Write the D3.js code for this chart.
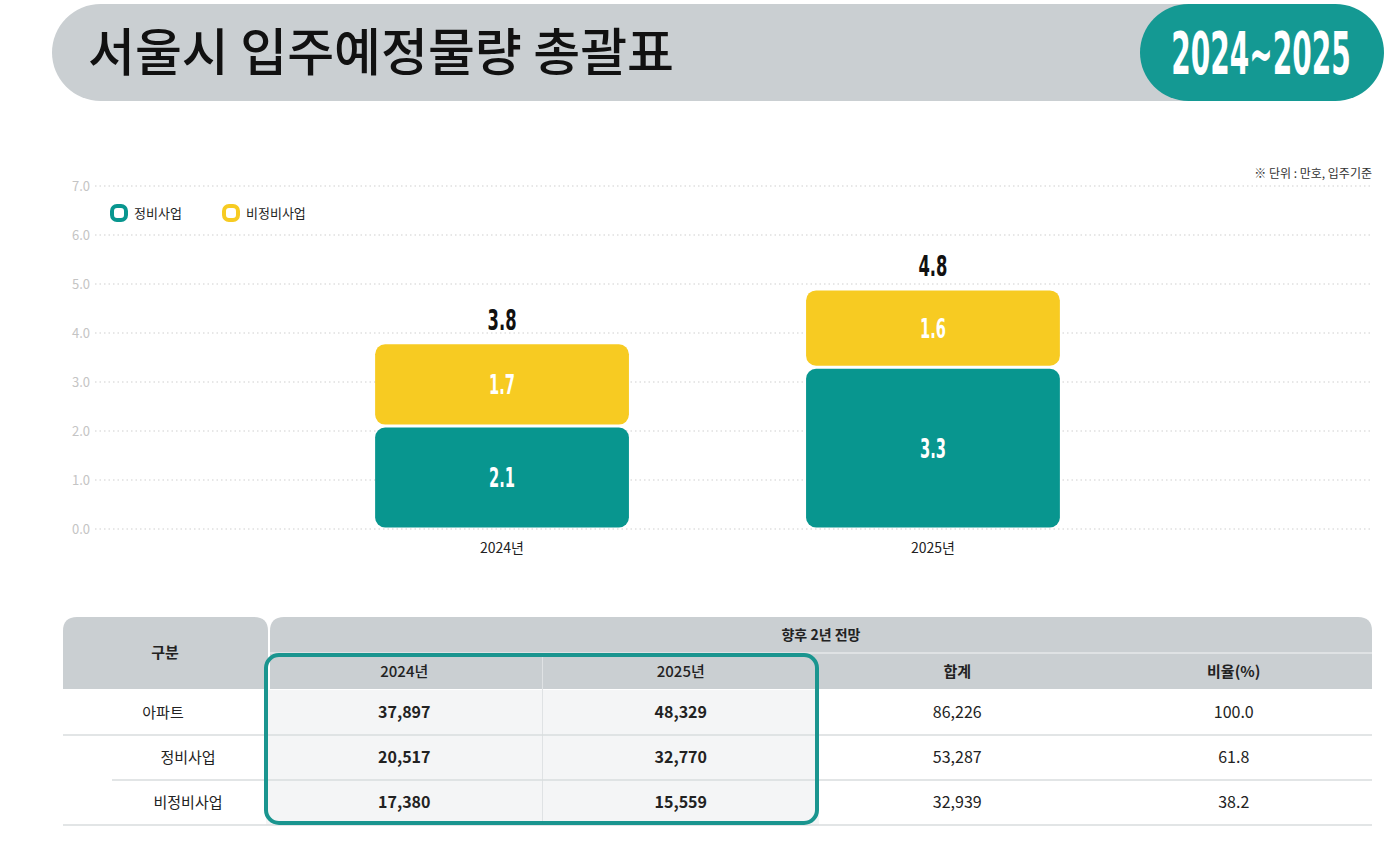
<!DOCTYPE html>
<html>
<head>
<meta charset="utf-8">
<script src="https://cdn.jsdelivr.net/npm/d3@7"></script>
<style>
  body { margin: 0; background: #fff; }
  svg { display: block; font-family: "Noto Sans CJK KR", "Noto Sans", sans-serif; }
</style>
</head>
<body>
<svg id="chart" width="1400" height="852"></svg>
<script>
// DATA
const years = ["2024년", "2025년"];
const seriesNames = ["정비사업", "비정비사업"];
const redevelopment = [2.1, 3.3];
const nonRedevelopment = [1.7, 1.6];
const totals = [3.8, 4.8];
const yTicks = [0, 1, 2, 3, 4, 5, 6, 7];

const tableRowLabels = ["아파트", "정비사업", "비정비사업"];
const tableColumns = ["2024년", "2025년", "합계", "비율(%)"];
const units2024 = [37897, 20517, 17380];
const units2025 = [48329, 32770, 15559];
const unitsTotal = [86226, 53287, 32939];
const unitsShare = [100.0, 61.8, 38.2];

// STYLE
const teal = "#08968f";
const yellow = "#f7cb22";
const headerGray = "#cacfd2";
const condensed = "'DejaVu Sans', sans-serif";

const svg = d3.select("#chart");

// HEADER BAR
svg.append("rect")
    .attr("x", 52).attr("y", 4)
    .attr("width", 1320).attr("height", 97)
    .attr("rx", 48.5)
    .attr("fill", headerGray);

svg.append("text")
    .attr("x", 88).attr("y", 71)
    .attr("font-size", 51)
    .attr("font-weight", 500)
    .attr("fill", "#111")
    .text("서울시 입주예정물량 총괄표");

svg.append("rect")
    .attr("x", 1140).attr("y", 4)
    .attr("width", 244).attr("height", 97)
    .attr("rx", 48.5)
    .attr("fill", "#149993");

// tall narrow period label: small font stretched vertically
svg.append("text")
    .attr("transform", "translate(1261,74) scale(1,2.1)")
    .attr("text-anchor", "middle")
    .attr("font-family", condensed)
    .attr("font-weight", "bold")
    .attr("font-size", 28)
    .attr("fill", "#fff")
    .text("2024~2025");

// STACKED BAR CHART
const y = d3.scaleLinear().domain([0, 7]).range([529, 186]);
const x = d3.scaleBand()
    .domain(years)
    .range([95, 1340])
    .paddingInner(0.411)
    .paddingOuter(0.65);

// dotted grid + tick labels
const grid = svg.append("g");
grid.selectAll("line")
  .data(yTicks)
  .join("line")
    .attr("x1", 95).attr("x2", 1372)
    .attr("y1", d => y(d)).attr("y2", d => y(d))
    .attr("stroke", "#cfcfcf")
    .attr("stroke-width", 1)
    .attr("stroke-dasharray", "1.5,3");

grid.selectAll("text")
  .data(yTicks)
  .join("text")
    .attr("x", 90)
    .attr("y", d => y(d))
    .attr("dy", "0.35em")
    .attr("text-anchor", "end")
    .attr("font-size", 13)
    .attr("fill", "#c4c4c4")
    .text(d => d3.format(".1f")(d));

svg.append("text")
    .attr("x", 1372).attr("y", 178)
    .attr("text-anchor", "end")
    .attr("font-size", 12)
    .attr("fill", "#333")
    .text("※ 단위 : 만호, 입주기준");

// stack the two series
const stackData = years.map((year, i) => ({
  year: year,
  [seriesNames[0]]: redevelopment[i],
  [seriesNames[1]]: nonRedevelopment[i]
}));
const stacked = d3.stack().keys(seriesNames)(stackData);
const colors = d3.scaleOrdinal().domain(seriesNames).range([teal, yellow]);

const layers = svg.append("g")
  .selectAll("g")
  .data(stacked)
  .join("g")
    .attr("fill", d => colors(d.key));

layers.selectAll("rect")
  .data(d => d)
  .join("rect")
    .attr("x", d => x(d.data.year))
    .attr("y", d => y(d[1]) + 1.5)
    .attr("width", x.bandwidth())
    .attr("height", d => y(d[0]) - y(d[1]) - 3)
    .attr("rx", 10);

layers.selectAll("text")
  .data(d => d)
  .join("text")
    .attr("x", d => x(d.data.year) + x.bandwidth() / 2)
    .attr("y", d => (y(d[0]) + y(d[1])) / 2)
    .attr("dy", "0.36em")
    .attr("text-anchor", "middle")
    .attr("font-family", condensed)
    .attr("font-weight", "bold")
    .attr("font-size", 27)
    .attr("textLength", 26)
    .attr("lengthAdjust", "spacingAndGlyphs")
    .attr("fill", "#fff")
    .text(d => d3.format(".1f")(d[1] - d[0]));

// totals above bars
svg.append("g")
  .selectAll("text")
  .data(years)
  .join("text")
    .attr("x", d => x(d) + x.bandwidth() / 2)
    .attr("y", (d, i) => y(d3.sum([redevelopment[i], nonRedevelopment[i]])) - 13)
    .attr("text-anchor", "middle")
    .attr("font-family", condensed)
    .attr("font-weight", "bold")
    .attr("font-size", 29)
    .attr("textLength", 29)
    .attr("lengthAdjust", "spacingAndGlyphs")
    .attr("fill", "#111")
    .text((d, i) => d3.format(".1f")(totals[i]));

// x labels
svg.append("g")
  .selectAll("text")
  .data(years)
  .join("text")
    .attr("x", d => x(d) + x.bandwidth() / 2)
    .attr("y", 553)
    .attr("text-anchor", "middle")
    .attr("font-size", 14)
    .attr("fill", "#222")
    .text(d => d);

// legend
const legend = svg.append("g")
  .selectAll("g")
  .data(seriesNames)
  .join("g")
    .attr("transform", (d, i) => `translate(${110 + i * 112},204)`);

legend.append("rect")
    .attr("x", 2).attr("y", 2)
    .attr("width", 14).attr("height", 14)
    .attr("rx", 5)
    .attr("fill", "#fff")
    .attr("stroke", d => colors(d))
    .attr("stroke-width", 4);

legend.append("text")
    .attr("x", 24).attr("y", 9)
    .attr("dy", "0.35em")
    .attr("font-size", 13)
    .attr("fill", "#222")
    .text(d => d);

// TABLE
const col = d3.scaleBand().domain(tableColumns).range([266, 1372]);
const row = d3.scaleBand().domain(tableRowLabels).range([690, 825]);
const table = svg.append("g");

// rounded-top header cell path
function topRounded(x0, y0, w, h, r) {
  return `M${x0},${y0 + h} V${y0 + r} Q${x0},${y0} ${x0 + r},${y0} H${x0 + w - r} Q${x0 + w},${y0} ${x0 + w},${y0 + r} V${y0 + h} Z`;
}

table.append("path")
    .attr("d", topRounded(63, 617, 205, 72, 14))
    .attr("fill", headerGray);
table.append("path")
    .attr("d", topRounded(270, 617, 1102, 72, 14))
    .attr("fill", headerGray);
table.append("line")
    .attr("x1", 270).attr("x2", 1372)
    .attr("y1", 653).attr("y2", 653)
    .attr("stroke", "#e6e8ea").attr("stroke-width", 1.5);

// highlighted year cells
table.append("rect")
    .attr("x", col("2024년")).attr("y", 690)
    .attr("width", col.bandwidth() * 2).attr("height", 135)
    .attr("fill", "#f4f5f6");
table.append("line")
    .attr("x1", col("2025년")).attr("x2", col("2025년"))
    .attr("y1", 655).attr("y2", 823)
    .attr("stroke", "#dfe2e4");

// header texts
table.append("text")
    .attr("x", 165).attr("y", 653)
    .attr("dy", "0.35em")
    .attr("text-anchor", "middle")
    .attr("font-size", 15).attr("font-weight", 700)
    .attr("fill", "#222")
    .text("구분");
table.append("text")
    .attr("x", 821).attr("y", 635)
    .attr("dy", "0.35em")
    .attr("text-anchor", "middle")
    .attr("font-size", 14).attr("font-weight", 700)
    .attr("fill", "#222")
    .text("향후 2년 전망");
table.selectAll(".col-head")
  .data(tableColumns)
  .join("text")
    .attr("x", d => col(d) + col.bandwidth() / 2)
    .attr("y", 672)
    .attr("dy", "0.35em")
    .attr("text-anchor", "middle")
    .attr("font-size", 15)
    .attr("font-weight", (d, i) => i < 2 ? 500 : 700)
    .attr("fill", "#222")
    .text(d => d);

// row separators
table.selectAll(".sep")
  .data(tableRowLabels)
  .join("line")
    .attr("x1", (d, i) => i === 1 ? 112 : 63)
    .attr("x2", 1372)
    .attr("y1", d => row(d) + row.bandwidth())
    .attr("y2", d => row(d) + row.bandwidth())
    .attr("stroke", "#d9dcde")
    .attr("stroke-width", 1.5);

// row labels
table.selectAll(".row-label")
  .data(tableRowLabels)
  .join("text")
    .attr("x", (d, i) => i === 0 ? 163 : 188)
    .attr("y", d => row(d) + row.bandwidth() / 2)
    .attr("dy", "0.35em")
    .attr("text-anchor", "middle")
    .attr("font-size", 15)
    .attr("fill", "#222")
    .text(d => d);

// cell values
const fmtInt = d3.format(",");
const fmtPct = d3.format(".1f");
const columnValues = [
  units2024.map(fmtInt),
  units2025.map(fmtInt),
  unitsTotal.map(fmtInt),
  unitsShare.map(fmtPct)
];
tableColumns.forEach((c, ci) => {
  table.append("g")
    .selectAll("text")
    .data(columnValues[ci])
    .join("text")
      .attr("x", col(c) + col.bandwidth() / 2)
      .attr("y", (d, ri) => row(tableRowLabels[ri]) + row.bandwidth() / 2)
      .attr("dy", "0.35em")
      .attr("text-anchor", "middle")
      .attr("font-size", 16)
      .attr("font-weight", ci < 2 ? 700 : 400)
      .attr("fill", "#222")
      .text(d => d);
});

// teal outline round the two year columns
table.append("rect")
    .attr("x", col("2024년")).attr("y", 655)
    .attr("width", col.bandwidth() * 2 - 2).attr("height", 168)
    .attr("rx", 13)
    .attr("fill", "none")
    .attr("stroke", "#1a958f")
    .attr("stroke-width", 4);
</script>
</body>
</html>
